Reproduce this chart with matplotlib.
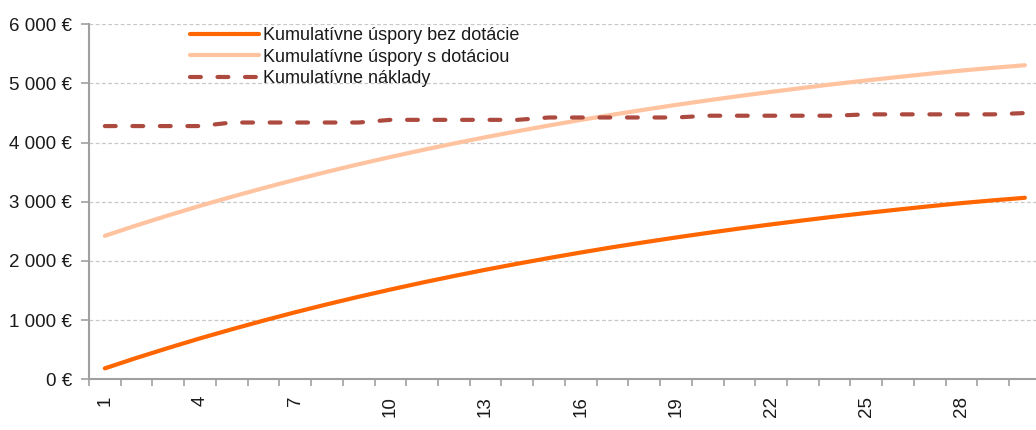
import matplotlib
matplotlib.use("Agg")
import matplotlib.pyplot as plt
from matplotlib.ticker import FixedLocator, FuncFormatter, NullFormatter

plt.rcParams['font.family'] = ['Liberation Sans', 'DejaVu Sans']

years = list(range(1, 31))
tick_labels_years = [1, 4, 7, 10, 13, 16, 19, 22, 25, 28]

savings_no_subsidy = [185, 362, 530, 692, 845, 992, 1133, 1267, 1395, 1517,
                      1634, 1745, 1852, 1953, 2050, 2143, 2232, 2316, 2397, 2474,
                      2548, 2618, 2685, 2750, 2811, 2869, 2925, 2978, 3025, 3068]
savings_with_subsidy = [2425, 2602, 2770, 2932, 3085, 3232, 3373, 3507, 3635, 3757,
                        3874, 3985, 4092, 4193, 4290, 4383, 4472, 4556, 4637, 4714,
                        4788, 4858, 4925, 4990, 5051, 5109, 5165, 5218, 5265, 5308]
costs = [4280, 4280, 4280, 4280, 4340, 4340, 4340, 4340, 4340, 4385,
         4385, 4385, 4385, 4385, 4425, 4425, 4425, 4425, 4425, 4455,
         4455, 4455, 4455, 4455, 4478, 4478, 4478, 4478, 4478, 4500]

series_labels = ["Kumulatívne úspory bez dotácie",
                 "Kumulatívne úspory s dotáciou",
                 "Kumulatívne náklady"]

W, H = 1036, 430
fig = plt.figure(figsize=(W / 100, H / 100), dpi=100)
ax = fig.add_axes([89 / W, (H - 379.3) / H, 1 - 89 / W, (379.3 - 24.3) / H])

ax.plot(years, savings_no_subsidy, color="#FF6600", lw=3.0, solid_capstyle="round",
        label=series_labels[0], zorder=3)
ax.plot(years, savings_with_subsidy, color="#FFC3A0", lw=3.0, solid_capstyle="round",
        label=series_labels[1], zorder=3)
ax.plot(years, costs, color="#AC4A40", lw=3.0, dashes=(2.6, 4.0), dash_capstyle="round",
        label=series_labels[2], zorder=3)

ax.set_xlim(0.5, 30.35)
ax.set_ylim(0, 6000)

# y axis
ax.set_yticks(range(0, 6001, 1000))
ax.yaxis.set_major_formatter(FuncFormatter(lambda v, p: f"{int(v):,} €".replace(",", " ")))
ax.tick_params(axis="y", length=6, width=1.2, color="#A0A0A0", labelsize=13.5, pad=6,
               labelcolor="#1a1a1a")
ax.yaxis.grid(True, color="#C8C8C8", linestyle=(0, (3, 2)), lw=0.9)
ax.set_axisbelow(True)

# x axis: ticks at category boundaries, labels at every 3rd category centre
ax.xaxis.set_major_locator(FixedLocator([i + 0.5 for i in range(0, 31)]))
ax.xaxis.set_major_formatter(NullFormatter())
ax.xaxis.set_minor_locator(FixedLocator(tick_labels_years))
ax.xaxis.set_minor_formatter(FuncFormatter(lambda v, p: str(int(round(v)))))
ax.tick_params(axis="x", which="major", length=5, width=1.2, color="#A0A0A0")
ax.tick_params(axis="x", which="minor", length=0, labelsize=13.5, pad=12,
               labelrotation=90, labelcolor="#1a1a1a")

for s in ["top", "right"]:
    ax.spines[s].set_visible(False)
for s in ["left", "bottom"]:
    ax.spines[s].set_color("#A0A0A0")
    ax.spines[s].set_linewidth(1.5)

leg = ax.legend(loc="upper left", bbox_to_anchor=(190 / W, (H - 27) / H),
                bbox_transform=fig.transFigure, frameon=False, fontsize=13,
                handlelength=3.8, handletextpad=0.25, labelspacing=0.25,
                borderpad=0, borderaxespad=0)
for t in leg.get_texts():
    t.set_color("#1a1a1a")

fig.savefig("out.png", dpi=100)
